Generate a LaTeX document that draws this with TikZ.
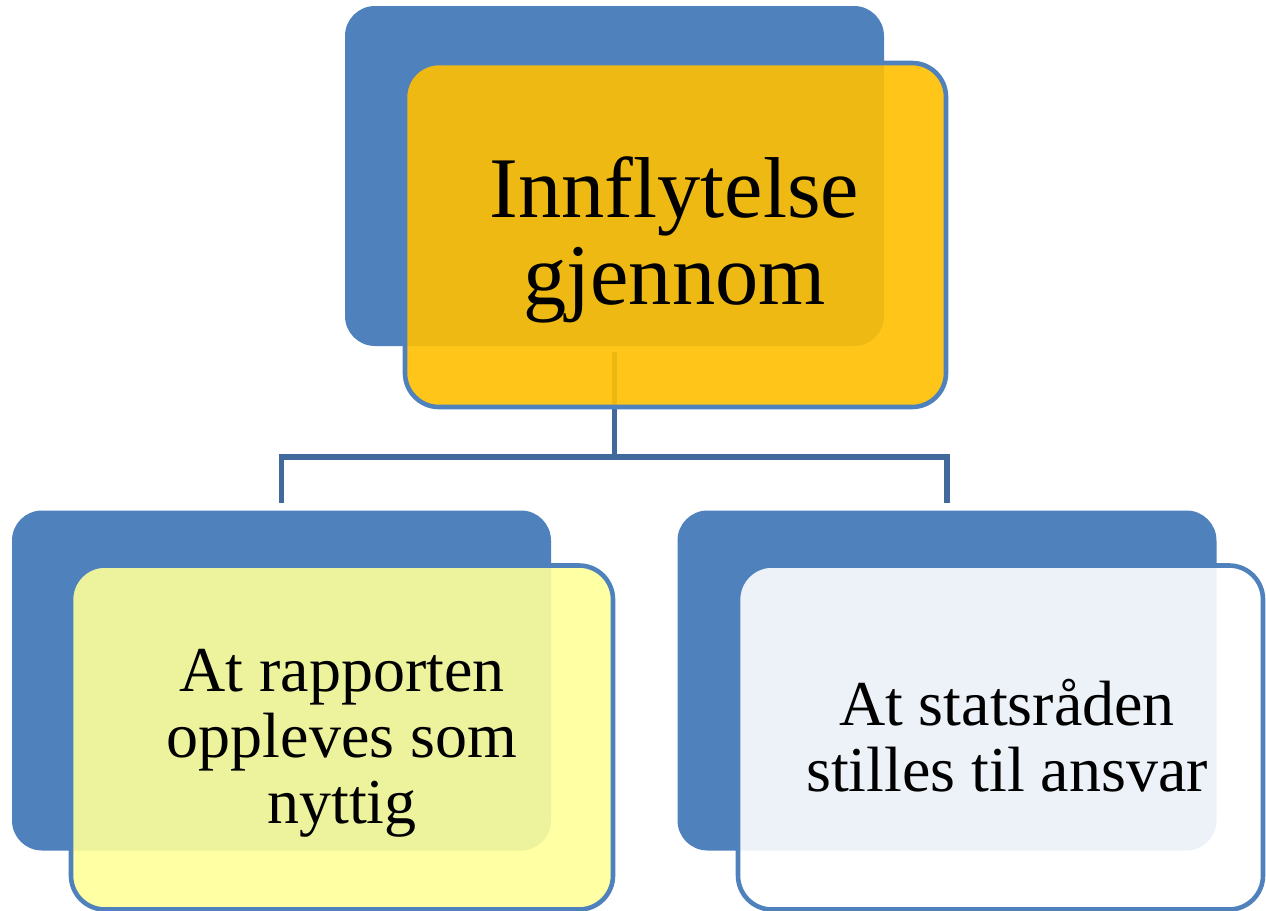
\documentclass[tikz,border=0pt]{standalone}
\usepackage{fontspec}
\setmainfont{Liberation Serif}
\begin{document}
\begin{tikzpicture}[x=0.5pt,y=-0.5pt,
  backbox/.style={fill=boxblue, rounded corners=15pt, inner sep=0pt, outer sep=0pt,
    minimum width=269.5pt, minimum height=170pt},
  frontbox/.style={draw=boxblue, line width=2.3pt, fill opacity=0.9, rounded corners=17pt,
    inner sep=0pt, outer sep=0pt, minimum height=172pt},
  conn/.style={draw=connblue, line width=2.6pt},
  bigtext/.style={font=\fontsize{43.2}{43.5}\selectfont, align=center, inner sep=0pt},
  smalltext/.style={font=\fontsize{32}{33}\selectfont, align=center, inner sep=0pt}]
\definecolor{boxblue}{HTML}{4F81BD}
\definecolor{connblue}{HTML}{41699C}
\definecolor{topfill}{HTML}{FFC000}
\definecolor{leftfill}{HTML}{FFFF99}
\useasboundingbox (0,0) rectangle (1266,911);
% back boxes
\node[backbox] (tb) at (614.5,176) {};
\node[backbox] (lb) at (281.5,680.5) {};
\node[backbox] (rb) at (947,680.5) {};
% connectors
\coordinate (bus) at (tb.south |- 0,457);
\draw[conn] ([yshift=-3pt]tb.south) -- (bus);
\draw[conn] ([yshift=4pt]lb.north) |- (bus) -| ([yshift=4pt]rb.north);
% front boxes
\node[frontbox, fill=topfill, minimum width=270.5pt] (tf) at (675.5,235) {};
\node[frontbox, fill=leftfill, minimum width=271pt] (lf) at (342,737.5) {};
\node[frontbox, fill=white, minimum width=262.5pt] (rf) at (1000.5,737.5) {};
% texts
\node[bigtext] (tt) at (674.5,240) {Innflytelse\\gjennom};
\node[smalltext] (lt) at (342,743) {At rapporten\\oppleves som\\nyttig};
\node[smalltext] (rt) at (1007,735.5) {At statsråden\\stilles til ansvar};
\end{tikzpicture}
\end{document}
